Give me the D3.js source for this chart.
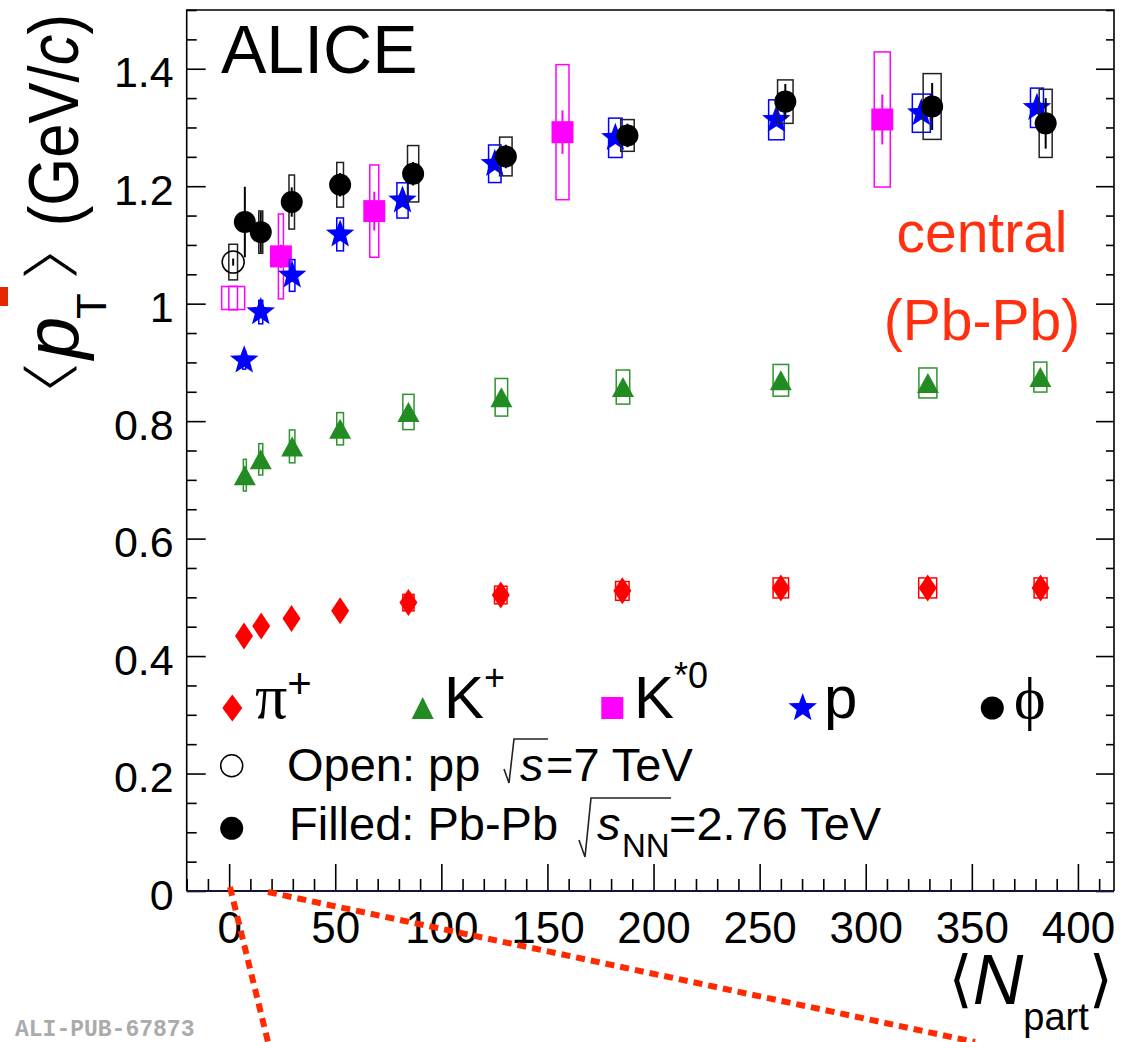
<!DOCTYPE html>
<html><head><meta charset="utf-8">
<script src="https://cdn.jsdelivr.net/npm/d3@7"></script>
<style>body{margin:0;background:#fff}svg{display:block}</style>
</head><body>
<svg id="c" width="1148" height="1042"></svg>
<script>
// ---------------- data ----------------
const xMajorTicks = [0,50,100,150,200,250,300,350,400];
const yMajorTicks = [0,0.2,0.4,0.6,0.8,1.0,1.2,1.4];
const yTickLabels = ["0","0.2","0.4","0.6","0.8","1","1.2","1.4"];
// <Npart> uncertainty (half box width) per centrality class 0-5% ... 80-90%
const npartErr = [3.06,4.24,3.65,3.18,2.94,2.64,1.58,1.3,0.94,0.7];

const piN   = [382.4,329.2,260.0,185.3,128.0,84.5,52.3,29.4,15.1,7.0];
const piPt  = [0.516,0.516,0.516,0.511,0.504,0.491,0.477,0.464,0.451,0.434];
const piSys = [0.017,0.017,0.017,0.016,0.015,0.014,0.012,0.011,0.010,0.009];

const kN    = [382.3,329.3,260.0,185.6,128.3,84.5,52.3,29.7,14.9,7.4];
const kPt   = [0.875,0.865,0.8695,0.858,0.8406,0.8156,0.787,0.757,0.735,0.708];
const kSys  = [0.0255,0.0255,0.027,0.029,0.032,0.030,0.0275,0.028,0.0267,0.027];

const pN    = [380.7,326.2,257.9,182.0,125.2,81.7,52.3,29.7,14.9,7.1];
const pPt   = [1.3335,1.3243,1.313,1.2824,1.2382,1.1758,1.1179,1.048,0.9857,0.9035];
const pSys  = [0.0335,0.0325,0.034,0.0335,0.032,0.030,0.028,0.027,0.020,0.015];

const phiN    = [384.8,331.3,262.1,187.7,130.4,86.7,52.3,29.5,14.9,7.4];
const phiPt   = [1.307,1.3357,1.344,1.2864,1.2506,1.2212,1.2024,1.173,1.1218,1.139];
const phiStat = [0.043,0.040,0.030,0.020,0.020,0.020,0.020,0.025,0.035,0.060];
const phiSys  = [0.058,0.056,0.037,0.027,0.033,0.048,0.038,0.046,0.036,0.015];

const kstN    = [307.8,157.1,68.4,24.4];
const kstNErr = [3.77,3.06,2.12,1.18];
const kstPt   = [1.3136,1.292,1.1576,1.0805];
const kstStat = [0.0425,0.037,0.033,0.020];
const kstSys  = [0.115,0.115,0.0786,0.0723];

// pp reference points
const ppN = [1.9];
const ppNErr = [2.05];
const ppPhiPt = [1.0708], ppPhiSys = [0.0303];
const ppKstPt = [1.0095], ppKstSys = [0.020];

// ---------------- setup ----------------
const L = 186.7, R = 1114, T = 10, B = 891;
const svg = d3.select("#c");
const sans = "'Liberation Sans', Arial, Helvetica, sans-serif";
const serif = "'Liberation Serif', 'DejaVu Serif', 'Times New Roman', serif";
const x = d3.scaleLinear().domain([-20, 417]).range([L, R]);
const y = d3.scaleLinear().domain([0, 1.5]).range([B, T]);

const COL = {pi:"#ff0000", k:"#228b22", kbox:"#2e942e", kst:"#ff00ff", p:"#0000ff", phi:"#000000", phibox:"#222222"};

// ---------------- axes ----------------
const minorX = d3.range(-20, 417, 10).filter(v => v % 50 !== 0);
const minorY = d3.range(0, 1.5001, 0.05).map(v => +v.toFixed(2)).filter(v => Math.abs(v*5 - Math.round(v*5)) > 1e-6);

function styleAxis(g){ g.select(".domain").remove(); g.selectAll("line").attr("stroke","#000").attr("stroke-width",1.6); }

svg.append("g").attr("transform",`translate(0,${B})`)
  .call(d3.axisBottom(x).tickValues(xMajorTicks).tickSize(-27).tickFormat(d3.format("d")))
  .call(styleAxis)
  .call(g => g.selectAll("text").attr("y", 52).attr("dy", null)
      .attr("font-family", sans).attr("font-size", 44).attr("fill","#000"));
svg.append("g").attr("transform",`translate(0,${B})`)
  .call(d3.axisBottom(x).tickValues(minorX).tickSize(-12).tickFormat(""))
  .call(styleAxis);

svg.append("g").attr("transform",`translate(${L},0)`)
  .call(d3.axisLeft(y).tickValues(yMajorTicks).tickSize(-19).tickFormat((d,i)=>yTickLabels[i]))
  .call(styleAxis)
  .call(g => g.selectAll("text").attr("x", -13).attr("dy", 18)
      .attr("font-family", sans).attr("font-size", 43).attr("fill","#000"));
svg.append("g").attr("transform",`translate(${L},0)`)
  .call(d3.axisLeft(y).tickValues(minorY).tickSize(-10).tickFormat(""))
  .call(styleAxis);

svg.append("g").attr("transform",`translate(${R},0)`)
  .call(d3.axisRight(y).tickValues(yMajorTicks).tickSize(-18).tickFormat(""))
  .call(styleAxis);
svg.append("g").attr("transform",`translate(${R},0)`)
  .call(d3.axisRight(y).tickValues(minorY).tickSize(-8).tickFormat(""))
  .call(styleAxis);

// frame
svg.append("path").attr("d",`M${L},${B}V${T}H${R}V${B}`).attr("fill","none").attr("stroke","#000").attr("stroke-width",1.6);
svg.append("line").attr("x1",L).attr("x2",R).attr("y1",B).attr("y2",B).attr("stroke","#14143a").attr("stroke-width",2.2);

// ---------------- marker paths ----------------
const diamondPath = (cx,cy,hw,hh) => `M${cx},${cy-hh}L${cx+hw},${cy}L${cx},${cy+hh}L${cx-hw},${cy}Z`;
const triPath = (cx,cy,w,h) => `M${cx},${cy-h/2}L${cx+w/2},${cy+h/2}L${cx-w/2},${cy+h/2}Z`;
const sqPath = (cx,cy,s) => `M${cx-s/2},${cy-s/2}h${s}v${s}h${-s}Z`;
function starPath(cx,cy,Ro,Ri){
  let p="";
  for(let i=0;i<10;i++){
    const a=-Math.PI/2+i*Math.PI/5, rr=i%2?Ri:Ro;
    p+=(i?"L":"M")+(cx+rr*Math.cos(a)).toFixed(2)+","+(cy+rr*Math.sin(a)).toFixed(2);
  }
  return p+"Z";
}

const plot = svg.append("g");
function zip(ns, vs, extra){ return ns.map((n,i)=>Object.assign({n, v:vs[i]}, extra(i))); }

function drawBoxes(data, color, sw){
  plot.append("g").selectAll("rect").data(data.filter(d=>d.s>0)).join("rect")
    .attr("x", d => x(d.n - d.e)).attr("width", d => x(d.n + d.e) - x(d.n - d.e))
    .attr("y", d => y(d.v + d.s)).attr("height", d => y(d.v - d.s) - y(d.v + d.s))
    .attr("fill","none").attr("stroke", color).attr("stroke-width", sw||1.5);
}
function drawStat(data, color){
  plot.append("g").selectAll("line").data(data.filter(d=>d.st>0)).join("line")
    .attr("x1", d=>x(d.n)).attr("x2", d=>x(d.n))
    .attr("y1", d=>y(d.v + d.st)).attr("y2", d=>y(d.v - d.st))
    .attr("stroke", color).attr("stroke-width", 2);
}

// pions
const piData = zip(piN, piPt, i=>({s:piSys[i], e:npartErr[i]}));
drawBoxes(piData, COL.pi);
plot.append("g").selectAll("path").data(piData).join("path")
  .attr("d", d => diamondPath(x(d.n), y(d.v), 9, 13.5)).attr("fill", COL.pi);

// kaons
const kData = zip(kN, kPt, i=>({s:kSys[i], e:npartErr[i]}));
drawBoxes(kData, COL.kbox);
plot.append("g").selectAll("path").data(kData).join("path")
  .attr("d", d => triPath(x(d.n), y(d.v), 22, 20)).attr("fill", COL.k);

// K*0
const kstData = zip(kstN, kstPt, i=>({s:kstSys[i], e:kstNErr[i], st:kstStat[i]}));
drawBoxes(kstData, COL.kst);
drawStat(kstData, COL.kst);
plot.append("g").selectAll("path").data(kstData).join("path")
  .attr("d", d => sqPath(x(d.n), y(d.v), 22)).attr("fill", COL.kst);
const ppKst = zip(ppN, ppKstPt, i=>({s:ppKstSys[i], e:ppNErr[i]}));
drawBoxes(ppKst, COL.kst);
plot.append("g").selectAll("path").data(ppKst).join("path")
  .attr("d", d => sqPath(x(d.n), y(d.v), 23)).attr("fill","none").attr("stroke",COL.kst).attr("stroke-width",1.5);

// protons
const pData = zip(pN, pPt, i=>({s:pSys[i], e:npartErr[i]}));
drawBoxes(pData, COL.p);
plot.append("g").selectAll("path").data(pData).join("path")
  .attr("d", d => starPath(x(d.n), y(d.v), 15, 6.3)).attr("fill", COL.p);

// phi
const phiData = zip(phiN, phiPt, i=>({s:phiSys[i], e:npartErr[i], st:phiStat[i]}));
drawBoxes(phiData, COL.phibox);
drawStat(phiData, COL.phi);
plot.append("g").selectAll("circle").data(phiData).join("circle")
  .attr("cx", d=>x(d.n)).attr("cy", d=>y(d.v)).attr("r", 11).attr("fill", COL.phi);
const ppPhi = zip(ppN, ppPhiPt, i=>({s:ppPhiSys[i], e:ppNErr[i], st:0.006}));
drawBoxes(ppPhi, COL.phibox);
drawStat(ppPhi, COL.phi);
plot.append("g").selectAll("circle").data(ppPhi).join("circle")
  .attr("cx", d=>x(d.n)).attr("cy", d=>y(d.v)).attr("r", 11)
  .attr("fill","none").attr("stroke","#000").attr("stroke-width",1.5);

// ---------------- texts ----------------
svg.append("text").attr("x",221).attr("y",73).attr("font-family",sans).attr("font-size",68).text("ALICE");
svg.append("text").attr("x",982).attr("y",252).attr("text-anchor","middle").attr("font-family",sans)
  .attr("font-size",57).attr("fill","#ff3010").text("central");
svg.append("text").attr("x",982).attr("y",340).attr("text-anchor","middle").attr("font-family",sans)
  .attr("font-size",57).attr("fill","#ff3010").text("(Pb-Pb)");

// y title (rotated group; u axis runs upward from y=399, baseline at screen x=78)
const yg = svg.append("g").attr("transform","translate(78,399) rotate(-90)");
function bracket(ch, u){
  yg.append("text").attr("transform",`translate(${u},-8) scale(2.2,1)`).attr("text-anchor","middle")
    .attr("font-family","'DejaVu Sans'").attr("font-size",63)
    .attr("fill","#000").attr("stroke","#fff").attr("stroke-width",3.2).attr("stroke-linejoin","miter")
    .text(ch);
}
bracket("⟨", 22);
yg.append("text").attr("x",40).attr("y",0).attr("font-family",sans).attr("font-style","italic").attr("font-size",76).text("p");
yg.append("text").attr("x",80).attr("y",28).attr("font-family",sans).attr("font-size",42).text("T");
bracket("⟩", 134);
const yt = yg.append("text").attr("transform","translate(385,0) scale(0.88,1)").attr("text-anchor","end")
  .attr("font-family",sans).attr("font-size",70);
yt.append("tspan").text("(GeV/");
yt.append("tspan").attr("font-style","italic").text("c");
yt.append("tspan").text(")");

// x title
const xt = svg.append("text").attr("x",1113).attr("y",1004).attr("text-anchor","end")
  .attr("font-family",sans).attr("font-size",70);
xt.append("tspan").attr("font-family","'DejaVu Sans'").attr("font-size",62).attr("dy",-4).text("⟨");
xt.append("tspan").attr("font-style","italic").attr("dy",4).text("N");
xt.append("tspan").attr("font-size",38).attr("dy",26).text("part");
xt.append("tspan").attr("dy",-30).attr("font-family","'DejaVu Sans'").attr("font-size",62).text("⟩");

// legend
const lg = svg.append("g");
lg.append("path").attr("d", diamondPath(232.3,708,10,13.5)).attr("fill",COL.pi);
lg.append("path").attr("d", triPath(422.7,708,22,22)).attr("fill",COL.k);
lg.append("path").attr("d", sqPath(612.3,708,22)).attr("fill",COL.kst);
lg.append("path").attr("d", starPath(802.7,708,15,6.3)).attr("fill",COL.p);
lg.append("circle").attr("cx",992.3).attr("cy",708).attr("r",11.5).attr("fill","#000");

const t1 = lg.append("text").attr("x",255).attr("y",718).attr("font-family",serif).attr("font-size",64);
t1.append("tspan").text("π");
t1.append("tspan").attr("font-family",sans).attr("font-size",42).attr("dy",-20).text("+");
const t2 = lg.append("text").attr("x",444).attr("y",718).attr("font-family",sans).attr("font-size",60);
t2.append("tspan").text("K");
t2.append("tspan").attr("font-size",36).attr("dy",-28).text("+");
const t3 = lg.append("text").attr("x",634).attr("y",718).attr("font-family",sans).attr("font-size",60);
t3.append("tspan").text("K");
t3.append("tspan").attr("font-size",36).attr("dy",-30).text("*0");
lg.append("text").attr("x",824).attr("y",718).attr("font-family",sans).attr("font-size",60).text("p");
lg.append("text").attr("x",1014).attr("y",718).attr("font-family",serif).attr("font-size",60).text("ϕ");

lg.append("circle").attr("cx",231.7).attr("cy",765.7).attr("r",11).attr("fill","none").attr("stroke","#000").attr("stroke-width",1.5);
lg.append("circle").attr("cx",231.7).attr("cy",828.3).attr("r",11.5).attr("fill","#000");

lg.append("text").attr("x",287).attr("y",780.7).attr("font-family",sans).attr("font-size",47).text("Open: pp");
lg.append("path").attr("d","M504,769L509,783L514,739H548").attr("fill","none").attr("stroke","#222").attr("stroke-width",1.6);
lg.append("text").attr("x",520).attr("y",780.7).attr("font-family",sans).attr("font-size",47).attr("font-style","italic").text("s");
lg.append("text").attr("x",546).attr("y",780.7).attr("font-family",sans).attr("font-size",47).text("=7 TeV");

lg.append("text").attr("x",289).attr("y",840).attr("font-family",sans).attr("font-size",47).text("Filled: Pb-Pb");
lg.append("path").attr("d","M579,840L585,857L591,798H671").attr("fill","none").attr("stroke","#222").attr("stroke-width",1.6);
lg.append("text").attr("x",597).attr("y",840).attr("font-family",sans).attr("font-size",47).attr("font-style","italic").text("s");
lg.append("text").attr("x",622).attr("y",857).attr("font-family",sans).attr("font-size",33).text("NN");
lg.append("text").attr("x",669).attr("y",840).attr("font-family",sans).attr("font-size",47).text("=2.76 TeV");

// publication tag
svg.append("text").attr("x",15).attr("y",1036).attr("font-family","'Liberation Mono','DejaVu Sans Mono',monospace")
  .attr("font-weight","bold").attr("font-size",23).attr("fill","#ababab").text("ALI-PUB-67873");

// overlay annotations (red dotted lines, red mark)
const ov = svg.append("g").attr("stroke","#ff2a00").attr("stroke-width",6).attr("stroke-dasharray","9,6").attr("fill","none");
ov.append("line").attr("x1",230).attr("y1",887).attr("x2",268).attr("y2",1042);
ov.append("line").attr("x1",268).attr("y1",892).attr("x2",975).attr("y2",1042);
svg.append("rect").attr("x",0).attr("y",287).attr("width",8).attr("height",19).attr("fill","#e62600");
</script>
</body></html>
